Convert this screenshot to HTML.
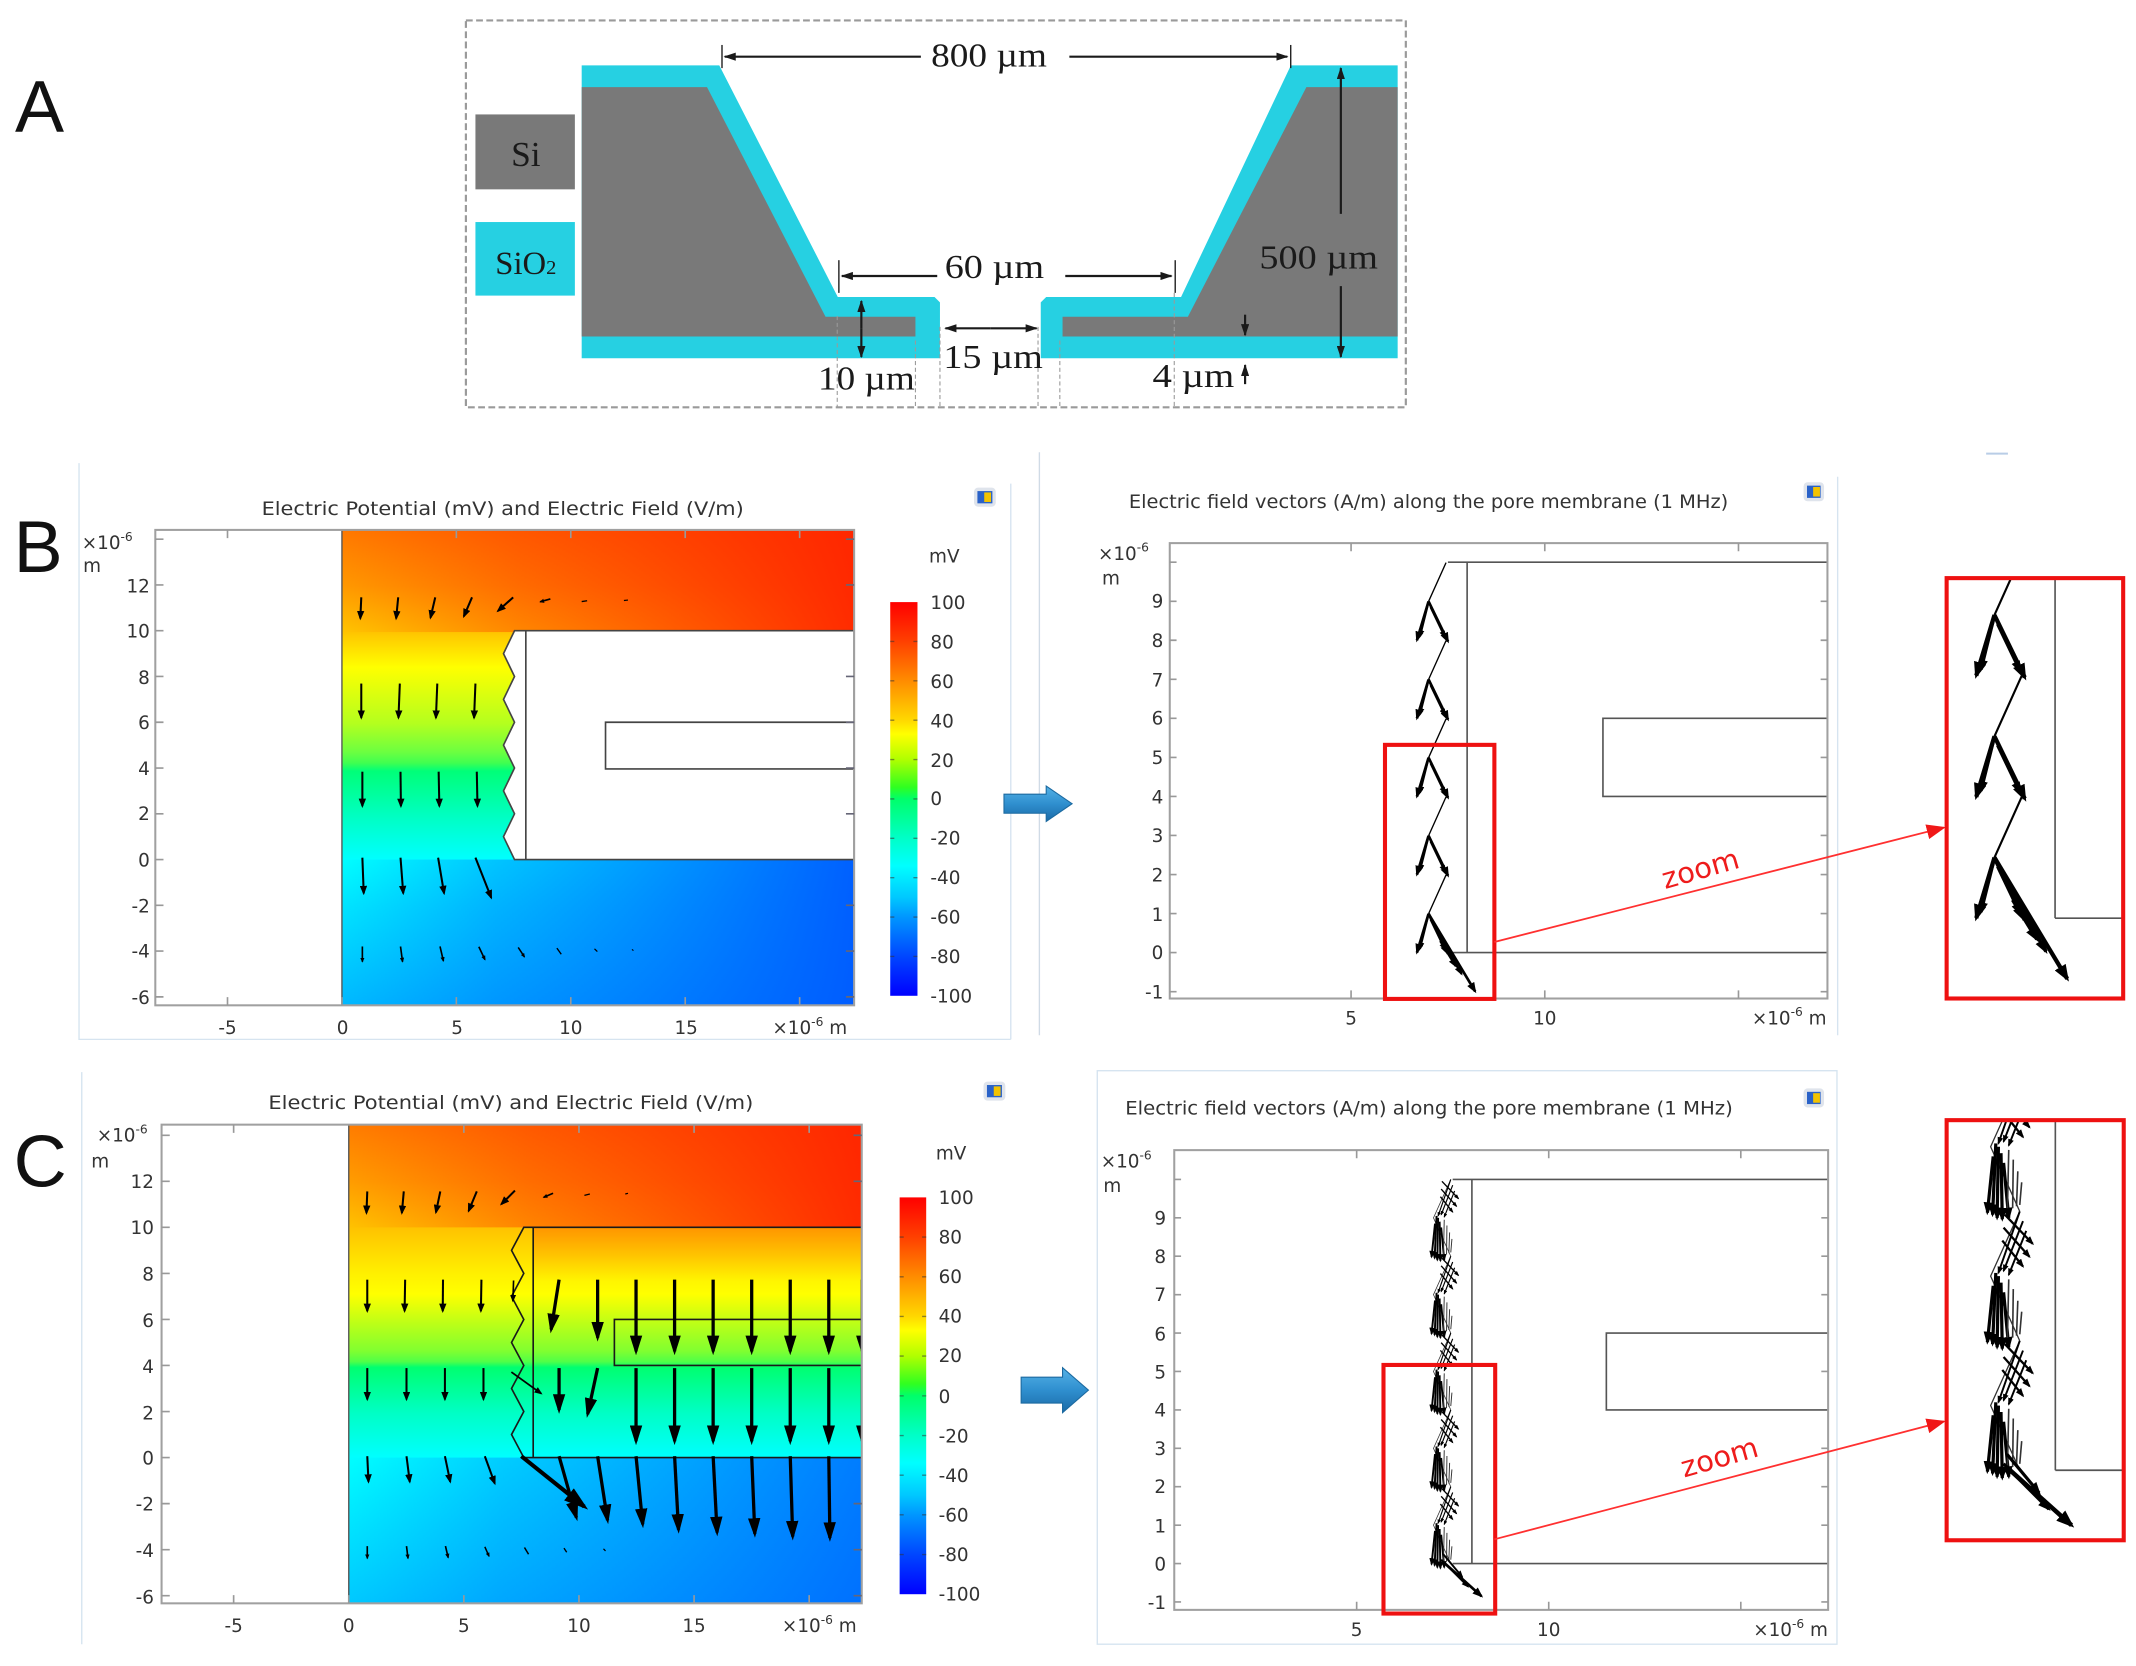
<!DOCTYPE html>
<html><head><meta charset="utf-8"><style>
html,body{margin:0;padding:0;background:#fff;}
svg{display:block;}
.t{font-family:"DejaVu Sans","Liberation Sans",sans-serif;fill:#333;font-size:13.5px;}
.s{font-family:"Liberation Serif",serif;fill:#1a1a1a;}
.L{font-family:"Liberation Sans","DejaVu Sans",sans-serif;fill:#111;font-size:54px;}
</style></head><body>
<svg width="2136" height="1666" viewBox="0 0 1568 1223" xmlns="http://www.w3.org/2000/svg">
<defs>
<marker id="mS" viewBox="0 0 10 10" refX="8" refY="5" markerWidth="4.6" markerHeight="3.6" orient="auto" preserveAspectRatio="none"><path d="M0,0L10,5L0,10z" fill="#000"/></marker>
<marker id="mT" viewBox="0 0 10 10" refX="8" refY="5" markerWidth="3" markerHeight="2.6" orient="auto" preserveAspectRatio="none"><path d="M0,0L10,5L0,10z" fill="#000"/></marker>
<marker id="mL" viewBox="0 0 10 10" refX="8" refY="5" markerWidth="6" markerHeight="3.8" orient="auto" preserveAspectRatio="none"><path d="M0,0L10,5L0,10z" fill="#000"/></marker>
<marker id="mF" viewBox="0 0 10 10" refX="8" refY="5" markerWidth="4" markerHeight="3" orient="auto" preserveAspectRatio="none"><path d="M0,0L10,5L0,10z" fill="#000"/></marker>
<marker id="mA" viewBox="0 0 10 10" refX="9" refY="5" markerUnits="userSpaceOnUse" markerWidth="9" markerHeight="6" orient="auto" preserveAspectRatio="none"><path d="M0,0L10,5L0,10z" fill="#1a1a1a"/></marker>
<marker id="mR" viewBox="0 0 10 10" refX="9" refY="5" markerUnits="userSpaceOnUse" markerWidth="14" markerHeight="11" orient="auto" preserveAspectRatio="none"><path d="M0,0L10,5L0,10z" fill="#f01818"/></marker>

<linearGradient id="gB" gradientUnits="userSpaceOnUse" x1="0" y1="389" x2="0" y2="738">
<stop offset="0" stop-color="#ff7800"/><stop offset=".117" stop-color="#ff9800"/><stop offset=".215" stop-color="#ffc400"/><stop offset=".289" stop-color="#ffff00"/><stop offset=".407" stop-color="#b4ff1e"/><stop offset=".467" stop-color="#6cff40"/><stop offset=".49" stop-color="#40ff50"/><stop offset=".507" stop-color="#00ff78"/><stop offset=".605" stop-color="#00ffc4"/><stop offset=".693" stop-color="#00ffff"/><stop offset=".791" stop-color="#00e4ff"/><stop offset="1" stop-color="#00b8ff"/>
</linearGradient>
<linearGradient id="gC" gradientUnits="userSpaceOnUse" x1="0" y1="825.6" x2="0" y2="1177">
<stop offset="0" stop-color="#ff7c00"/><stop offset=".118" stop-color="#ff9c00"/><stop offset=".215" stop-color="#ffc200"/><stop offset=".311" stop-color="#fff000"/><stop offset=".354" stop-color="#ffff00"/><stop offset=".408" stop-color="#c4ff14"/><stop offset=".473" stop-color="#80ff30"/><stop offset=".495" stop-color="#50ff48"/><stop offset=".507" stop-color="#00ff70"/><stop offset=".601" stop-color="#00ffc4"/><stop offset=".695" stop-color="#00ffff"/><stop offset=".792" stop-color="#00ecff"/><stop offset="1" stop-color="#00c8ff"/>
</linearGradient>
<linearGradient id="rHB" gradientUnits="userSpaceOnUse" x1="251" y1="0" x2="627" y2="0">
<stop offset="0" stop-color="#ff2000" stop-opacity="0"/><stop offset=".35" stop-color="#ff2000" stop-opacity=".38"/><stop offset="1" stop-color="#ff2000" stop-opacity=".93"/>
</linearGradient>
<linearGradient id="rHC" gradientUnits="userSpaceOnUse" x1="256" y1="0" x2="632.6" y2="0">
<stop offset="0" stop-color="#ff2000" stop-opacity="0"/><stop offset=".35" stop-color="#ff2000" stop-opacity=".38"/><stop offset="1" stop-color="#ff2000" stop-opacity=".93"/>
</linearGradient>
<linearGradient id="bHB" gradientUnits="userSpaceOnUse" x1="251" y1="0" x2="627" y2="0">
<stop offset="0" stop-color="#0058ff" stop-opacity="0"/><stop offset=".3" stop-color="#0058ff" stop-opacity=".35"/><stop offset="1" stop-color="#0058ff" stop-opacity=".95"/>
</linearGradient>
<linearGradient id="bHC" gradientUnits="userSpaceOnUse" x1="256" y1="0" x2="632.6" y2="0">
<stop offset="0" stop-color="#0058ff" stop-opacity="0"/><stop offset=".3" stop-color="#0058ff" stop-opacity=".3"/><stop offset="1" stop-color="#0058ff" stop-opacity=".78"/>
</linearGradient>
<linearGradient id="rVC" x1="0" y1="0" x2="0" y2="1">
<stop offset="0" stop-color="#ff3000" stop-opacity=".3"/><stop offset="1" stop-color="#ff3000" stop-opacity="0"/>
</linearGradient>
<linearGradient id="cbar" x1="0" y1="0" x2="0" y2="1">
<stop offset="0" stop-color="#ff0000"/><stop offset=".1" stop-color="#ff4000"/><stop offset=".2" stop-color="#ff8c00"/><stop offset=".3" stop-color="#ffd800"/><stop offset=".335" stop-color="#ffff00"/><stop offset=".4" stop-color="#b0ff00"/><stop offset=".47" stop-color="#30ff20"/><stop offset=".5" stop-color="#00ff6a"/><stop offset=".6" stop-color="#00ffc8"/><stop offset=".67" stop-color="#00ffff"/><stop offset=".75" stop-color="#00c8ff"/><stop offset=".8" stop-color="#0096ff"/><stop offset=".9" stop-color="#0046ff"/><stop offset="1" stop-color="#0000ff"/>
</linearGradient>
<linearGradient id="blu" x1="0" y1="0" x2="0" y2="1">
<stop offset="0" stop-color="#55b2e6"/><stop offset=".5" stop-color="#2f8fcf"/><stop offset="1" stop-color="#1b6aa6"/>
</linearGradient>

<clipPath id="clBz"><rect x="1429" y="424.4" width="129.6" height="308.6"/></clipPath>
<clipPath id="clCz"><rect x="1429" y="822.3" width="130" height="308.4"/></clipPath>
<clipPath id="clCl"><rect x="118.6" y="825.6" width="514" height="351.4"/></clipPath>

<g id="bp" stroke="#000" fill="none">
<line x1="0.45" y1="-2" x2="0" y2="-1" stroke-width="0.035"/>
<line x1="0" y1="-1" x2="-0.3" y2="0" stroke-width="0.07" marker-end="url(#mF)"/>
<line x1="0" y1="-1" x2="0.5" y2="0.03" stroke-width="0.07" marker-end="url(#mF)"/>
<line x1="-0.02" y1="-0.9" x2="-0.22" y2="-0.1" stroke-width="0.05" marker-end="url(#mF)"/>
<line x1="0.05" y1="-0.85" x2="0.42" y2="-0.08" stroke-width="0.05" marker-end="url(#mF)"/>
</g>
<g id="bx" stroke="#000" fill="none">
<line x1="0" y1="-1" x2="1.2" y2="1.0" stroke-width="0.07" marker-end="url(#mF)"/>
<line x1="0.15" y1="-0.7" x2="0.85" y2="0.55" stroke-width="0.06" marker-end="url(#mF)"/>
<line x1="0.3" y1="-0.3" x2="0.7" y2="0.35" stroke-width="0.06" marker-end="url(#mF)"/>
</g>
<g id="cp" fill="none">
<polyline points="0.45,-2 0,-1 0.45,0" stroke="#333" stroke-width="0.02"/>
<line x1="0.45" y1="-2" x2="0.12" y2="-1.05" stroke="#000" stroke-width="0.03" marker-end="url(#mF)"/>
<line x1="0.5" y1="-1.85" x2="0.2" y2="-1.08" stroke="#000" stroke-width="0.03" marker-end="url(#mF)"/>
<line x1="0.55" y1="-1.7" x2="0.28" y2="-1.02" stroke="#000" stroke-width="0.03" marker-end="url(#mF)"/>
<line x1="0.22" y1="-1.95" x2="0.65" y2="-1.5" stroke="#000" stroke-width="0.035" marker-end="url(#mF)"/>
<line x1="0.2" y1="-1.75" x2="0.6" y2="-1.3" stroke="#000" stroke-width="0.035" marker-end="url(#mF)"/>
<line x1="0.18" y1="-1.55" x2="0.5" y2="-1.15" stroke="#000" stroke-width="0.035" marker-end="url(#mF)"/>
<line x1="0.08" y1="-1.05" x2="0.03" y2="0.05" stroke="#000" stroke-width="0.05" marker-end="url(#mF)"/>
<line x1="0.12" y1="-1.0" x2="0.1" y2="0.1" stroke="#000" stroke-width="0.05" marker-end="url(#mF)"/>
<line x1="0.16" y1="-0.9" x2="0.18" y2="0.12" stroke="#000" stroke-width="0.05" marker-end="url(#mF)"/>
<line x1="0.2" y1="-0.75" x2="0.28" y2="0.1" stroke="#000" stroke-width="0.05" marker-end="url(#mF)"/>
<line x1="0.04" y1="-0.85" x2="-0.05" y2="0.02" stroke="#000" stroke-width="0.05" marker-end="url(#mF)"/>
<line x1="0.28" y1="-0.95" x2="0.26" y2="-0.05" stroke="#333" stroke-width="0.025"/>
<line x1="0.35" y1="-0.8" x2="0.34" y2="-0.05" stroke="#333" stroke-width="0.025"/>
<line x1="0.42" y1="-0.62" x2="0.4" y2="-0.08" stroke="#333" stroke-width="0.025"/>
<line x1="0.48" y1="-0.45" x2="0.45" y2="-0.1" stroke="#333" stroke-width="0.025"/>
</g>
<g id="cx" stroke="#000" fill="none">
<line x1="0.3" y1="0" x2="1.25" y2="0.85" stroke-width="0.07" marker-end="url(#mF)"/>
<line x1="0.2" y1="-0.1" x2="0.9" y2="0.6" stroke-width="0.05" marker-end="url(#mF)"/>
<line x1="0.25" y1="-0.25" x2="0.75" y2="0.35" stroke-width="0.05" marker-end="url(#mF)"/>
</g>
</defs>

<rect width="1568" height="1223" fill="#fff"/>

<!-- ================= PANEL A ================= -->
<text class="L" x="11" y="97">A</text>
<rect x="342" y="15" width="690" height="284" fill="none" stroke="#9a9a9a" stroke-width="1.6" stroke-dasharray="5 2.5"/>
<polygon fill="#26d0e2" points="427,48 528,48 615,218 686,218 690,222 690,263 427,263"/>
<polygon fill="#26d0e2" points="1026,48 947.6,48 867,218 768,218 764,222 764,263 1026,263"/>
<polygon fill="#797979" points="427,64 519,64 606,232.5 672,232.5 672,247 427,247"/>
<polygon fill="#797979" points="1026,64 959,64 872,232.5 780,232.5 780,247 1026,247"/>
<rect x="349" y="84" width="73" height="55" fill="#797979"/>
<rect x="349" y="163" width="73" height="54" fill="#26d0e2"/>
<text class="s" x="386" y="122" font-size="26" text-anchor="middle">Si</text>
<text class="s" x="386" y="201" font-size="24" text-anchor="middle">SiO<tspan font-size="15">2</tspan></text>

<g stroke="#1a1a1a" stroke-width="1.6" fill="none">
<line x1="676" y1="41.6" x2="532" y2="41.6" marker-end="url(#mA)"/>
<line x1="785" y1="41.6" x2="945" y2="41.6" marker-end="url(#mA)"/>
<line x1="530" y1="33" x2="530" y2="50" stroke-width="1"/>
<line x1="947.5" y1="33" x2="947.5" y2="50" stroke-width="1"/>
<line x1="688" y1="202.6" x2="618" y2="202.6" marker-end="url(#mA)"/>
<line x1="782" y1="202.6" x2="860" y2="202.6" marker-end="url(#mA)"/>
<line x1="615.8" y1="191" x2="615.8" y2="215" stroke-width="1"/>
<line x1="862.7" y1="191" x2="862.7" y2="215" stroke-width="1"/>
<line x1="727" y1="241" x2="694" y2="241" marker-end="url(#mA)"/>
<line x1="727" y1="241" x2="761" y2="241" marker-end="url(#mA)"/>
<line x1="632.3" y1="241" x2="632.3" y2="221" marker-end="url(#mA)"/>
<line x1="632.3" y1="241" x2="632.3" y2="262" marker-end="url(#mA)"/>
<line x1="984.3" y1="157" x2="984.3" y2="50" marker-end="url(#mA)"/>
<line x1="984.3" y1="210" x2="984.3" y2="262" marker-end="url(#mA)"/>
<line x1="914" y1="231" x2="914" y2="246" marker-end="url(#mA)"/>
<line x1="914" y1="282" x2="914" y2="268" marker-end="url(#mA)"/>
</g>
<g stroke="#9a9a9a" stroke-width="0.8" stroke-dasharray="3 2">
<line x1="614.6" y1="232" x2="614.6" y2="299"/>
<line x1="672" y1="250" x2="672" y2="299"/>
<line x1="690" y1="240" x2="690" y2="299"/>
<line x1="762" y1="240" x2="762" y2="299"/>
<line x1="778" y1="250" x2="778" y2="299"/>
<line x1="862" y1="215" x2="862" y2="299"/>
</g>
<text class="s" x="726" y="49" font-size="25" text-anchor="middle" textLength="85" lengthAdjust="spacingAndGlyphs">800 µm</text>
<text class="s" x="730" y="204" font-size="25" text-anchor="middle" textLength="73" lengthAdjust="spacingAndGlyphs">60 µm</text>
<text class="s" x="729" y="270" font-size="25" text-anchor="middle" textLength="73" lengthAdjust="spacingAndGlyphs">15 µm</text>
<text class="s" x="636" y="286" font-size="25" text-anchor="middle" textLength="71" lengthAdjust="spacingAndGlyphs">10 µm</text>
<text class="s" x="876" y="284" font-size="25" text-anchor="middle" textLength="60" lengthAdjust="spacingAndGlyphs">4 µm</text>
<text class="s" x="968" y="197" font-size="25" text-anchor="middle" textLength="87" lengthAdjust="spacingAndGlyphs">500 µm</text>

<!-- ================= PANEL B ================= -->
<text class="L" x="10" y="420">B</text>
<g stroke="#d6e4f0" stroke-width="1" fill="none">
<polyline points="58,340 58,763 742,763"/>
<line x1="742" y1="355" x2="742" y2="763"/>
<line x1="763" y1="332" x2="763" y2="760" stroke="#d0dbe6"/>
<line x1="1349" y1="350" x2="1349" y2="760"/>
<line x1="1458" y1="333" x2="1474" y2="333" stroke="#b9cde6" stroke-width="1.5"/>
</g>

<!-- B left plot -->
<text class="t" x="369" y="378" text-anchor="middle" textLength="354" lengthAdjust="spacingAndGlyphs">Electric Potential (mV) and Electric Field (V/m)</text>
<rect x="251" y="389" width="376" height="349" fill="url(#gB)"/>
<rect x="251" y="389" width="376" height="75" fill="url(#rHB)"/>
<rect x="251" y="631" width="376" height="107" fill="url(#bHB)"/>
<polygon points="627,463 377.7,463 369.6,479.8 377.7,496.6 369.6,513.4 377.7,530.2 369.6,547 377.7,563.8 369.6,580.6 377.7,597.4 369.6,614.2 377.7,631 627,631" fill="#fff" stroke="#444" stroke-width="1.2"/>
<line x1="386" y1="463" x2="386" y2="631" stroke="#444" stroke-width="1.2"/>
<polyline points="627,530.2 444.5,530.2 444.5,564.5 627,564.5" fill="none" stroke="#444" stroke-width="1.2"/>
<line x1="251" y1="389" x2="251" y2="738" stroke="#555" stroke-width="1"/>
<rect x="114" y="389" width="513" height="349" fill="none" stroke="#a0a0a0" stroke-width="1.5"/>
<g stroke="#999" stroke-width="1.2">
<path d="M114,395.8h6M114,429.4h6M114,463h6M114,496.6h6M114,530.2h6M114,563.8h6M114,597.4h6M114,631h6M114,664.6h6M114,698.2h6M114,731.8h6"/>
<path d="M621,395.8h6M621,429.4h6M621,496.6h6M621,530.2h6M621,563.8h6M621,597.4h6M621,664.6h6M621,698.2h6M621,731.8h6" stroke="#667"/>
<path d="M167,738v-6M251,738v-6M335,738v-6M419,738v-6M503,738v-6M587,738v-6M167,389v6M335,389v6M419,389v6M503,389v6M587,389v6"/>
</g>
<g class="t" text-anchor="end">
<text x="110" y="435">12</text><text x="110" y="468">10</text><text x="110" y="502">8</text><text x="110" y="535">6</text><text x="110" y="569">4</text><text x="110" y="602">2</text><text x="110" y="636">0</text><text x="110" y="670">-2</text><text x="110" y="703">-4</text><text x="110" y="737">-6</text>
</g>
<g class="t" text-anchor="middle">
<text x="167" y="759">-5</text><text x="251.5" y="759">0</text><text x="335.5" y="759">5</text><text x="419" y="759">10</text><text x="503.7" y="759">15</text>
</g>
<text class="t" x="567" y="759">×10<tspan font-size="9" dy="-6">-6</tspan><tspan dy="6"> m</tspan></text>
<text class="t" x="60" y="403">×10<tspan font-size="9" dy="-6">-6</tspan></text>
<text class="t" x="61" y="420">m</text>
<g stroke="#000" stroke-width="1.5" fill="none" marker-end="url(#mS)">
<line x1="265.2" y1="438.5" x2="264.5" y2="454"/>
<line x1="292.3" y1="438.5" x2="290.8" y2="454"/>
<line x1="319.5" y1="438.5" x2="316" y2="453.5"/>
<line x1="346.5" y1="438.5" x2="340.5" y2="452.5"/>
<line x1="376.7" y1="438.5" x2="365.5" y2="448.5"/>
<line x1="404" y1="439.7" x2="396.5" y2="441.8" stroke-width="1.2" marker-end="url(#mT)"/>
<line x1="431" y1="441" x2="427" y2="441.6" stroke-width="1" marker-end="none"/>
<line x1="461" y1="440.5" x2="458" y2="440.8" stroke-width="0.9" marker-end="none"/>
<line x1="265.2" y1="501.8" x2="265.2" y2="527"/>
<line x1="293.5" y1="501.8" x2="292.5" y2="527"/>
<line x1="321" y1="501.8" x2="320" y2="527"/>
<line x1="349" y1="501.8" x2="348" y2="527"/>
<line x1="266" y1="566.5" x2="266" y2="591.8"/>
<line x1="294" y1="566.5" x2="294.3" y2="591.8"/>
<line x1="322" y1="566.5" x2="322.5" y2="591.8"/>
<line x1="350" y1="566.5" x2="350.5" y2="591.8"/>
<line x1="266" y1="629.6" x2="267" y2="655.8"/>
<line x1="294" y1="629.6" x2="296" y2="655.8"/>
<line x1="321.6" y1="629.6" x2="326" y2="655.8"/>
<line x1="349" y1="629.6" x2="360.6" y2="659"/>
<line x1="266" y1="694.8" x2="266" y2="706" stroke-width="1.2" marker-end="url(#mT)"/>
<line x1="294" y1="694.8" x2="295.5" y2="706" stroke-width="1.2" marker-end="url(#mT)"/>
<line x1="323" y1="694.8" x2="325.5" y2="705.5" stroke-width="1.2" marker-end="url(#mT)"/>
<line x1="351.5" y1="695" x2="356" y2="704.5" stroke-width="1.2" marker-end="url(#mT)"/>
<line x1="380.4" y1="695.5" x2="385" y2="702.5" stroke-width="1.1" marker-end="url(#mT)"/>
<line x1="408.8" y1="696" x2="412" y2="700.5" stroke-width="1" marker-end="none"/>
<line x1="436.4" y1="696.5" x2="438.5" y2="698.5" stroke-width="0.9" marker-end="none"/>
<line x1="463.9" y1="697" x2="465" y2="697.8" stroke-width="0.8" marker-end="none"/>
</g>
<!-- colorbar B -->
<text class="t" x="682" y="413">mV</text>
<rect x="653.5" y="442" width="20" height="289" fill="url(#cbar)"/>
<g stroke="#333" stroke-opacity=".55" stroke-width="1">
<path d="M653.5,470.9h3M653.5,499.8h3M653.5,528.7h3M653.5,557.6h3M653.5,586.5h3M653.5,615.4h3M653.5,644.3h3M653.5,673.2h3M653.5,702.1h3M670.5,470.9h3M670.5,499.8h3M670.5,528.7h3M670.5,557.6h3M670.5,586.5h3M670.5,615.4h3M670.5,644.3h3M670.5,673.2h3M670.5,702.1h3"/>
</g>
<g class="t">
<text x="683" y="447">100</text><text x="683" y="476">80</text><text x="683" y="505">60</text><text x="683" y="534">40</text><text x="683" y="563">20</text><text x="683" y="591">0</text><text x="683" y="620">-20</text><text x="683" y="649">-40</text><text x="683" y="678">-60</text><text x="683" y="707">-80</text><text x="683" y="736">-100</text>
</g>
<g>
<rect x="715" y="358" width="16" height="14" rx="3" fill="#dfe4ec"/>
<rect x="717.5" y="360.5" width="11" height="9" fill="#2a62c8"/>
<rect x="722.5" y="361.5" width="5" height="7" fill="#f3c300"/>
</g>
<polygon points="737,583 768,583 768,577 787,590 768,603 768,597 737,597" fill="url(#blu)" stroke="#1c6aa0" stroke-width="0.8"/>

<!-- B right plot -->
<text class="t" x="1048.7" y="373" text-anchor="middle" textLength="440" lengthAdjust="spacingAndGlyphs">Electric field vectors (A/m) along the pore membrane (1 MHz)</text>
<g>
<rect x="1324" y="354" width="15" height="14" rx="3" fill="#dfe4ec"/>
<rect x="1326.5" y="356.5" width="10" height="9" fill="#2a62c8"/>
<rect x="1331" y="357.5" width="5" height="7" fill="#f3c300"/>
</g>
<g stroke="#555" stroke-width="1.2" fill="none">
<line x1="1062.9" y1="412.7" x2="1341.5" y2="412.7"/>
<line x1="1077" y1="412.7" x2="1077" y2="699.3"/>
<line x1="1062.9" y1="699.3" x2="1341.5" y2="699.3"/>
<polyline points="1341.5,527.3 1176.7,527.3 1176.7,584.7 1341.5,584.7"/>
</g>
<rect x="858.7" y="398.7" width="482.8" height="334.3" fill="none" stroke="#a0a0a0" stroke-width="1.5"/>
<g stroke="#999" stroke-width="1.2">
<path d="M858.7,412.7h5M858.7,441.4h5M858.7,470h5M858.7,498.7h5M858.7,527.3h5M858.7,556h5M858.7,584.7h5M858.7,613.3h5M858.7,642h5M858.7,670.6h5M858.7,699.3h5M858.7,728h5"/>
<path d="M1336.5,441.4h5M1336.5,470h5M1336.5,498.7h5M1336.5,556h5M1336.5,613.3h5M1336.5,642h5M1336.5,670.6h5M1336.5,728h5"/>
<path d="M991.8,733v-6M1134,733v-6M1276.2,733v-6M991.8,398.7v6M1134,398.7v6M1276.2,398.7v6"/>
</g>
<g class="t" text-anchor="end">
<text x="854" y="446">9</text><text x="854" y="475">8</text><text x="854" y="504">7</text><text x="854" y="532">6</text><text x="854" y="561">5</text><text x="854" y="590">4</text><text x="854" y="618">3</text><text x="854" y="647">2</text><text x="854" y="676">1</text><text x="854" y="704">0</text><text x="854" y="733">-1</text>
</g>
<text class="t" x="991.8" y="752" text-anchor="middle">5</text>
<text class="t" x="1134" y="752" text-anchor="middle">10</text>
<text class="t" x="1286" y="752">×10<tspan font-size="9" dy="-6">-6</tspan><tspan dy="6"> m</tspan></text>
<text class="t" x="806" y="411">×10<tspan font-size="9" dy="-6">-6</tspan></text>
<text class="t" x="809" y="429">m</text>
<use href="#bp" transform="translate(1048.7,470) scale(28.5)"/>
<use href="#bp" transform="translate(1048.7,527.3) scale(28.5)"/>
<use href="#bp" transform="translate(1048.7,584.7) scale(28.5)"/>
<use href="#bp" transform="translate(1048.7,642) scale(28.5)"/>
<use href="#bp" transform="translate(1048.7,699.3) scale(28.5)"/>
<use href="#bx" transform="translate(1048.7,699.3) scale(28.5)"/>
<rect x="1016.7" y="546.8" width="80.3" height="186.5" fill="none" stroke="#ee1111" stroke-width="3"/>
<line x1="1097" y1="691.5" x2="1427" y2="607.5" stroke="#ff3030" stroke-width="1.3" marker-end="url(#mR)"/>
<text x="1248" y="645" font-family="DejaVu Sans, sans-serif" font-size="21" fill="#ee1c1c" text-anchor="middle" transform="rotate(-16 1248 637)" textLength="58" lengthAdjust="spacingAndGlyphs">zoom</text>
<!-- B zoom box -->
<g stroke="#555" stroke-width="1.2">
<line x1="1508.6" y1="424.4" x2="1508.6" y2="674"/>
<line x1="1508.6" y1="674" x2="1558.6" y2="674"/>
</g>
<g clip-path="url(#clBz)">
<use href="#bp" transform="translate(1464.1,407) scale(44.5)"/>
<use href="#bp" transform="translate(1464.1,496) scale(44.5)"/>
<use href="#bp" transform="translate(1464.1,585) scale(44.5)"/>
<use href="#bp" transform="translate(1464.1,674) scale(44.5)"/>
<use href="#bx" transform="translate(1464.1,674) scale(44.5)"/>
</g>
<rect x="1429" y="424.4" width="129.6" height="308.6" fill="none" stroke="#ee1111" stroke-width="3"/>

<!-- ================= PANEL C ================= -->
<text class="L" x="10" y="871">C</text>
<g stroke="#d6e4f0" stroke-width="1" fill="none">
<line x1="60" y1="787" x2="60" y2="1207"/>
<rect x="805.5" y="786" width="543" height="421"/>
</g>
<!-- C left plot -->
<text class="t" x="375" y="814" text-anchor="middle" textLength="356" lengthAdjust="spacingAndGlyphs">Electric Potential (mV) and Electric Field (V/m)</text>
<rect x="256" y="825.6" width="376.6" height="351.4" fill="url(#gC)"/>
<rect x="256" y="825.6" width="376.6" height="75.4" fill="url(#rHC)"/>
<rect x="391.4" y="901" width="241.2" height="40" fill="url(#rVC)"/>
<rect x="256" y="1070" width="376.6" height="107" fill="url(#bHC)"/>
<g stroke="#1a1a1a" stroke-width="1.2" fill="none">
<polyline points="632.6,901 384.5,901 375.5,917.9 384.5,934.8 375.5,951.7 384.5,968.6 375.5,985.5 384.5,1002.4 375.5,1019.3 384.5,1036.2 375.5,1053.1 384.5,1070 632.6,1070"/>
<line x1="391.4" y1="901" x2="391.4" y2="1070"/>
<polyline points="632.6,968.6 451,968.6 451,1002.4 632.6,1002.4"/>
</g>
<line x1="256" y1="825.6" x2="256" y2="1177" stroke="#555" stroke-width="1"/>
<g clip-path="url(#clCl)" stroke="#000" fill="none">
<g stroke-width="1.5" marker-end="url(#mS)">
<line x1="269.6" y1="874.6" x2="269" y2="890.5"/>
<line x1="296.4" y1="874.6" x2="295" y2="890.5"/>
<line x1="323.2" y1="874.6" x2="320" y2="890"/>
<line x1="350" y1="874.6" x2="344" y2="889"/>
<line x1="378" y1="874" x2="368" y2="884"/>
<line x1="406" y1="876" x2="399" y2="879" stroke-width="1.2" marker-end="url(#mT)"/>
<line x1="433" y1="876.5" x2="429" y2="877.5" stroke-width="1" marker-end="none"/>
<line x1="461" y1="876" x2="459" y2="876.5" stroke-width="0.9" marker-end="none"/>
<line x1="269.6" y1="939.4" x2="269.6" y2="962.5"/>
<line x1="297.4" y1="939.4" x2="297" y2="962.5"/>
<line x1="325.2" y1="939.4" x2="325" y2="962.5"/>
<line x1="353.4" y1="939.4" x2="353" y2="962.5"/>
<line x1="377" y1="940" x2="376.5" y2="955" stroke-width="1.2"/>
<line x1="269.6" y1="1004.3" x2="269.6" y2="1027.3"/>
<line x1="298.4" y1="1004.3" x2="298.4" y2="1027.3"/>
<line x1="326.6" y1="1004.3" x2="326.6" y2="1027.3"/>
<line x1="354.9" y1="1004.3" x2="354.9" y2="1027.3"/>
<line x1="375.4" y1="1007.2" x2="397.3" y2="1023" stroke-width="1.3"/>
<line x1="269.6" y1="1069" x2="270.5" y2="1087.8"/>
<line x1="298.4" y1="1069" x2="300.8" y2="1087.8"/>
<line x1="326.6" y1="1069" x2="330.5" y2="1087.8"/>
<line x1="355.9" y1="1069" x2="363.2" y2="1089"/>
<line x1="269.6" y1="1135" x2="269.6" y2="1144" stroke-width="1.2" marker-end="url(#mT)"/>
<line x1="298.4" y1="1135" x2="299.5" y2="1144" stroke-width="1.2" marker-end="url(#mT)"/>
<line x1="327" y1="1135" x2="329" y2="1143.5" stroke-width="1.2" marker-end="url(#mT)"/>
<line x1="355.9" y1="1135.5" x2="359" y2="1142.5" stroke-width="1.1" marker-end="url(#mT)"/>
<line x1="385" y1="1136" x2="388" y2="1141" stroke-width="1.1" marker-end="none"/>
<line x1="414" y1="1136.5" x2="416" y2="1139.5" stroke-width="1" marker-end="none"/>
<line x1="443" y1="1137" x2="444.5" y2="1138.5" stroke-width="0.9" marker-end="none"/>
</g>
<g stroke-width="2.4" marker-end="url(#mL)">
<line x1="410.4" y1="939.4" x2="404.6" y2="976"/>
<line x1="438.7" y1="939.4" x2="438.7" y2="982"/>
<line x1="466.9" y1="939.4" x2="466.9" y2="992"/>
<line x1="495.2" y1="939.4" x2="495.2" y2="992"/>
<line x1="523.5" y1="939.4" x2="523.5" y2="992"/>
<line x1="551.8" y1="939.4" x2="551.8" y2="992"/>
<line x1="580.1" y1="939.4" x2="580.1" y2="992"/>
<line x1="608.4" y1="939.4" x2="608.4" y2="992"/>
<line x1="633" y1="939.4" x2="633" y2="992"/>
<line x1="410.4" y1="1004.3" x2="410.4" y2="1035"/>
<line x1="438.7" y1="1004.3" x2="431.4" y2="1038"/>
<line x1="466.9" y1="1004.3" x2="466.9" y2="1058"/>
<line x1="495.2" y1="1004.3" x2="495.2" y2="1058"/>
<line x1="523.5" y1="1004.3" x2="523.5" y2="1058"/>
<line x1="551.8" y1="1004.3" x2="551.8" y2="1058"/>
<line x1="580.1" y1="1004.3" x2="580.1" y2="1058"/>
<line x1="608.4" y1="1004.3" x2="608.4" y2="1058"/>
<line x1="633" y1="1004.3" x2="633" y2="1058"/>
<line x1="382.7" y1="1069" x2="428.9" y2="1106" stroke-width="3"/>
<line x1="410.4" y1="1069" x2="423.1" y2="1114"/>
<line x1="438.7" y1="1069" x2="446" y2="1116"/>
<line x1="466.9" y1="1069" x2="471.8" y2="1119"/>
<line x1="495.2" y1="1069" x2="498.1" y2="1123"/>
<line x1="523.5" y1="1069" x2="526.4" y2="1125"/>
<line x1="551.8" y1="1069" x2="554.1" y2="1126"/>
<line x1="580.1" y1="1069" x2="581.9" y2="1128"/>
<line x1="608.4" y1="1069" x2="609.2" y2="1129"/>
</g>
</g>
<rect x="118.6" y="825.6" width="514" height="351.4" fill="none" stroke="#a0a0a0" stroke-width="1.5"/>
<g stroke="#999" stroke-width="1.2">
<path d="M118.6,833.4h6M118.6,867.2h6M118.6,901h6M118.6,934.8h6M118.6,968.6h6M118.6,1002.4h6M118.6,1036.2h6M118.6,1070h6M118.6,1103.8h6M118.6,1137.6h6M118.6,1171.4h6"/>
<path d="M626.6,833.4h6M626.6,867.2h6M626.6,1103.8h6M626.6,1137.6h6M626.6,1171.4h6" stroke="#667"/>
<path d="M171.5,1177v-6M256,1177v-6M340.5,1177v-6M425,1177v-6M509.5,1177v-6M594,1177v-6M171.5,825.6v6M340.5,825.6v6M425,825.6v6M509.5,825.6v6M594,825.6v6"/>
</g>
<g class="t" text-anchor="end">
<text x="113" y="872">12</text><text x="113" y="906">10</text><text x="113" y="940">8</text><text x="113" y="974">6</text><text x="113" y="1008">4</text><text x="113" y="1042">2</text><text x="113" y="1075">0</text><text x="113" y="1109">-2</text><text x="113" y="1143">-4</text><text x="113" y="1177">-6</text>
</g>
<g class="t" text-anchor="middle">
<text x="171.5" y="1198">-5</text><text x="256" y="1198">0</text><text x="340.5" y="1198">5</text><text x="425" y="1198">10</text><text x="509.5" y="1198">15</text>
</g>
<text class="t" x="574" y="1198">×10<tspan font-size="9" dy="-6">-6</tspan><tspan dy="6"> m</tspan></text>
<text class="t" x="71" y="838">×10<tspan font-size="9" dy="-6">-6</tspan></text>
<text class="t" x="67" y="857">m</text>
<!-- colorbar C -->
<text class="t" x="687" y="851">mV</text>
<rect x="660.4" y="879" width="19.5" height="291.3" fill="url(#cbar)"/>
<g stroke="#333" stroke-opacity=".55" stroke-width="1">
<path d="M660.4,908.1h3M660.4,937.3h3M660.4,966.4h3M660.4,995.5h3M660.4,1024.7h3M660.4,1053.8h3M660.4,1082.9h3M660.4,1112h3M660.4,1141.2h3M676.9,908.1h3M676.9,937.3h3M676.9,966.4h3M676.9,995.5h3M676.9,1024.7h3M676.9,1053.8h3M676.9,1082.9h3M676.9,1112h3M676.9,1141.2h3"/>
</g>
<g class="t">
<text x="689" y="884">100</text><text x="689" y="913">80</text><text x="689" y="942">60</text><text x="689" y="971">40</text><text x="689" y="1000">20</text><text x="689" y="1030">0</text><text x="689" y="1059">-20</text><text x="689" y="1088">-40</text><text x="689" y="1117">-60</text><text x="689" y="1146">-80</text><text x="689" y="1175">-100</text>
</g>
<g>
<rect x="722" y="794" width="16" height="14" rx="3" fill="#dfe4ec"/>
<rect x="724.5" y="796.5" width="11" height="9" fill="#2a62c8"/>
<rect x="729.5" y="797.5" width="5" height="7" fill="#f3c300"/>
</g>
<polygon points="749.6,1011 780,1011 780,1004 799,1020.5 780,1037 780,1030 749.6,1030" fill="url(#blu)" stroke="#1c6aa0" stroke-width="0.8"/>

<!-- C right plot -->
<text class="t" x="1049" y="818" text-anchor="middle" textLength="446" lengthAdjust="spacingAndGlyphs">Electric field vectors (A/m) along the pore membrane (1 MHz)</text>
<g>
<rect x="1324" y="799" width="15" height="14" rx="3" fill="#dfe4ec"/>
<rect x="1326.5" y="801.5" width="10" height="9" fill="#2a62c8"/>
<rect x="1331" y="802.5" width="5" height="7" fill="#f3c300"/>
</g>
<g stroke="#555" stroke-width="1.2" fill="none">
<line x1="1066.4" y1="865.8" x2="1342" y2="865.8"/>
<line x1="1080.5" y1="865.8" x2="1080.5" y2="1147.8"/>
<line x1="1066.4" y1="1147.8" x2="1342" y2="1147.8"/>
<polyline points="1342,978.6 1179.2,978.6 1179.2,1035 1342,1035"/>
</g>
<rect x="862" y="844.3" width="480" height="337.5" fill="none" stroke="#a0a0a0" stroke-width="1.5"/>
<g stroke="#999" stroke-width="1.2">
<path d="M862,865.8h5M862,894h5M862,922.2h5M862,950.4h5M862,978.6h5M862,1006.8h5M862,1035h5M862,1063.2h5M862,1091.4h5M862,1119.6h5M862,1147.8h5M862,1176h5"/>
<path d="M1337,894h5M1337,922.2h5M1337,950.4h5M1337,1006.8h5M1337,1063.2h5M1337,1091.4h5M1337,1119.6h5M1337,1176h5"/>
<path d="M995.9,1181.8v-6M1136.9,1181.8v-6M1277.9,1181.8v-6M995.9,844.3v6M1136.9,844.3v6M1277.9,844.3v6"/>
</g>
<g class="t" text-anchor="end">
<text x="856" y="899">9</text><text x="856" y="927">8</text><text x="856" y="955">7</text><text x="856" y="984">6</text><text x="856" y="1012">5</text><text x="856" y="1040">4</text><text x="856" y="1068">3</text><text x="856" y="1096">2</text><text x="856" y="1125">1</text><text x="856" y="1153">0</text><text x="856" y="1181">-1</text>
</g>
<text class="t" x="995.9" y="1201" text-anchor="middle">5</text>
<text class="t" x="1136.9" y="1201" text-anchor="middle">10</text>
<text class="t" x="1287" y="1201">×10<tspan font-size="9" dy="-6">-6</tspan><tspan dy="6"> m</tspan></text>
<text class="t" x="808" y="857">×10<tspan font-size="9" dy="-6">-6</tspan></text>
<text class="t" x="810" y="875">m</text>
<use href="#cp" transform="translate(1052.3,922.2) scale(28.2)"/>
<use href="#cp" transform="translate(1052.3,978.6) scale(28.2)"/>
<use href="#cp" transform="translate(1052.3,1035) scale(28.2)"/>
<use href="#cp" transform="translate(1052.3,1091.4) scale(28.2)"/>
<use href="#cp" transform="translate(1052.3,1147.8) scale(28.2)"/>
<use href="#cx" transform="translate(1052.3,1147.8) scale(28.2)"/>
<rect x="1015.6" y="1002" width="82" height="182.5" fill="none" stroke="#ee1111" stroke-width="3"/>
<line x1="1097" y1="1130" x2="1427" y2="1043.5" stroke="#ff3030" stroke-width="1.3" marker-end="url(#mR)"/>
<text x="1262" y="1077" font-family="DejaVu Sans, sans-serif" font-size="21" fill="#ee1c1c" text-anchor="middle" transform="rotate(-16 1262 1069)" textLength="58" lengthAdjust="spacingAndGlyphs">zoom</text>
<!-- C zoom box -->
<g stroke="#555" stroke-width="1.2">
<line x1="1508.8" y1="822.3" x2="1508.8" y2="1079.3"/>
<line x1="1508.8" y1="1079.3" x2="1559" y2="1079.3"/>
</g>
<g clip-path="url(#clCz)">
<use href="#cp" transform="translate(1461.3,794.3) scale(47.5)"/>
<use href="#cp" transform="translate(1461.3,889.3) scale(47.5)"/>
<use href="#cp" transform="translate(1461.3,984.3) scale(47.5)"/>
<use href="#cp" transform="translate(1461.3,1079.3) scale(47.5)"/>
<use href="#cx" transform="translate(1461.3,1079.3) scale(47.5)"/>
</g>
<rect x="1429" y="822.3" width="130" height="308.4" fill="none" stroke="#ee1111" stroke-width="3"/>
</svg>
</body></html>
